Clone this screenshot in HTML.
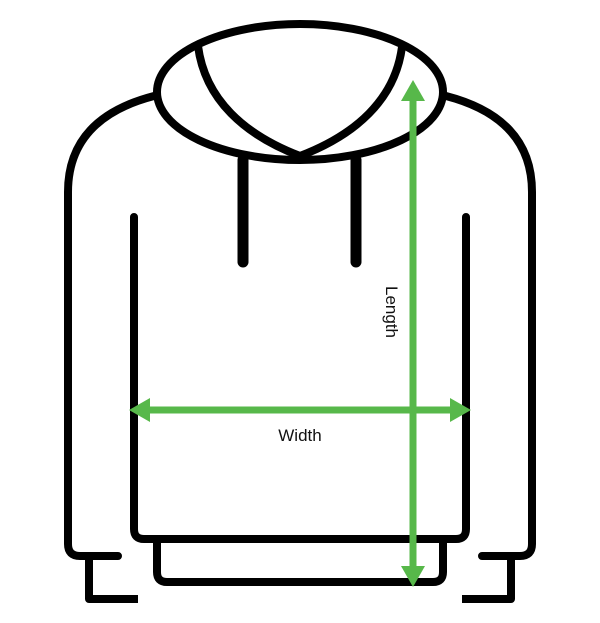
<!DOCTYPE html>
<html><head><meta charset="utf-8"><style>
html,body{margin:0;padding:0;background:#fff;width:600px;height:623px;overflow:hidden}
svg{display:block}
text{font-family:"Liberation Sans",sans-serif;fill:#111}
</style></head><body>
<svg width="600" height="623" viewBox="0 0 600 623">
<g fill="none" stroke="#000" stroke-width="8" stroke-linecap="round" stroke-linejoin="round">
<path d="M154,96 C100,110 68,140 68,192 L68,544 Q68,556 80,556 L118,556"/>
<path d="M446,96 C500,110 532,140 532,192 L532,544 Q532,556 520,556 L482,556"/>
<path d="M89,556 L89,599 L138,599" stroke-linecap="butt"/>
<path d="M511,556 L511,599 L462,599" stroke-linecap="butt"/>
<path d="M134,217 L134,529 Q134,539 144,539 L456,539 Q466,539 466,529 L466,217"/>
<path d="M157,539 L157,572 Q157,582 167,582 L433,582 Q443,582 443,572 L443,539"/>
<ellipse cx="300" cy="92" rx="143" ry="68"/>
<path d="M198,46 C205,100 245,135 300,156"/>
<path d="M402,47 C395,100 355,135 300,156"/>
<path d="M243,160 L243,262" stroke-width="11"/>
<path d="M356,160 L356,262" stroke-width="11"/>
</g>
<g fill="#57b84a" stroke="none">
<rect x="409.5" y="96" width="7" height="476"/>
<polygon points="413,80 401,101 425,101"/>
<polygon points="413,587 401,566 425,566"/>
<rect x="145" y="406.5" width="310" height="7"/>
<polygon points="129,410 150,398 150,422"/>
<polygon points="471,410 450,398 450,422"/>
</g>
<text x="300" y="441" font-size="17" text-anchor="middle">Width</text>
<text x="0" y="0" font-size="17" text-anchor="middle" transform="translate(386,312) rotate(90)">Length</text>
</svg>
</body></html>
